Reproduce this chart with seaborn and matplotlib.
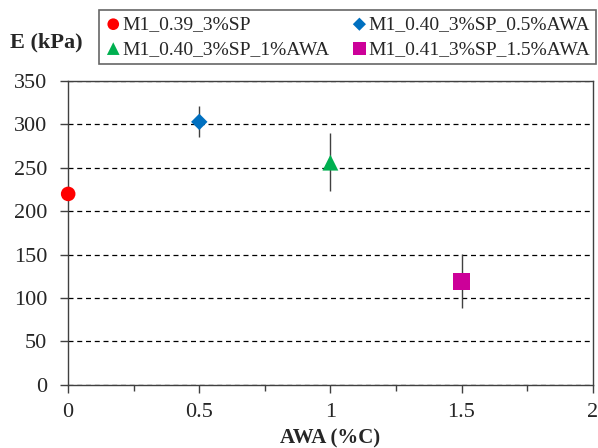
import pandas as pd
import matplotlib.pyplot as plt
import seaborn as sns
from matplotlib.ticker import MultipleLocator

# data
labels = ['M1_0.39_3%SP', 'M1_0.40_3%SP_0.5%AWA', 'M1_0.40_3%SP_1%AWA', 'M1_0.41_3%SP_1.5%AWA']
awa = [0.0, 0.5, 1.0, 1.5]
e_kpa = [220, 303, 256, 119]
err_low = [0, 17, 33, 30]
err_high = [0, 18, 34, 32]

colors = ['#ff0000', '#0070c0', '#00b050', '#cc0099']
markers = ['o', 'D', '^', 's']
sizes = [110, 70, 130, 150]

df = pd.DataFrame({'AWA': awa, 'E': e_kpa, 'mix': labels})

sns.set_style("white")
plt.rcParams['font.family'] = ['Liberation Serif', 'DejaVu Serif']

fig = plt.figure(figsize=(5.98, 4.48), dpi=100)
ax = fig.add_axes([0.114, 0.141, 0.877, 0.678])

# error bars first so markers sit on top
ax.errorbar(df['AWA'], df['E'], yerr=[err_low, err_high], fmt='none',
            ecolor='#404040', elinewidth=1.0, capsize=0, zorder=2)

for i, row in df.iterrows():
    sns.scatterplot(x=[row['AWA']], y=[row['E']], ax=ax, color=colors[i],
                    marker=markers[i], s=sizes[i], edgecolor='none',
                    label=row['mix'], zorder=3, clip_on=False)

ax.set_xlim(0, 2)
ax.set_ylim(0, 350)
ax.set_xticks([0, 0.5, 1, 1.5, 2])
ax.set_xticklabels(['0', '0.5', '1', '1.5', '2'])
ax.xaxis.set_minor_locator(MultipleLocator(0.25))
ax.yaxis.set_major_locator(MultipleLocator(50))

ax.grid(axis='y', linestyle=(0, (4, 3)), color='black', linewidth=0.9)
ax.set_axisbelow(True)
ax.tick_params(axis='both', which='major', direction='out', length=6, width=1,
               color='#404040', labelsize=16, bottom=True, left=True)
ax.tick_params(axis='x', which='minor', direction='out', length=4.5, width=1,
               color='#404040', bottom=True)
ax.tick_params(axis='x', which='major', pad=7)
ax.tick_params(axis='y', which='major', pad=9)
for sp in ax.spines.values():
    sp.set_color('#404040')
    sp.set_linewidth(1.0)

ax.set_xlabel('AWA (%C)', fontsize=15, fontweight='bold', labelpad=5)
ax.set_ylabel('')
fig.text(0.017, 0.906, 'E (kPa)', fontsize=16, fontweight='bold', va='center')

ax.get_legend().remove()
handles, lbls = ax.get_legend_handles_labels()
order = [0, 2, 1, 3]
leg = fig.legend([handles[k] for k in order], [lbls[k] for k in order],
                 ncol=2, loc='upper left', bbox_to_anchor=(0.165, 0.978),
                 fontsize=14, frameon=True, fancybox=False, handletextpad=0.0,
                 handlelength=0.9, columnspacing=1.1, borderpad=0.3,
                 borderaxespad=0, labelspacing=0.35, markerscale=0.8)
leg.get_frame().set_edgecolor('#404040')
leg.get_frame().set_linewidth(1.2)

fig.savefig('out.png', dpi=100)
